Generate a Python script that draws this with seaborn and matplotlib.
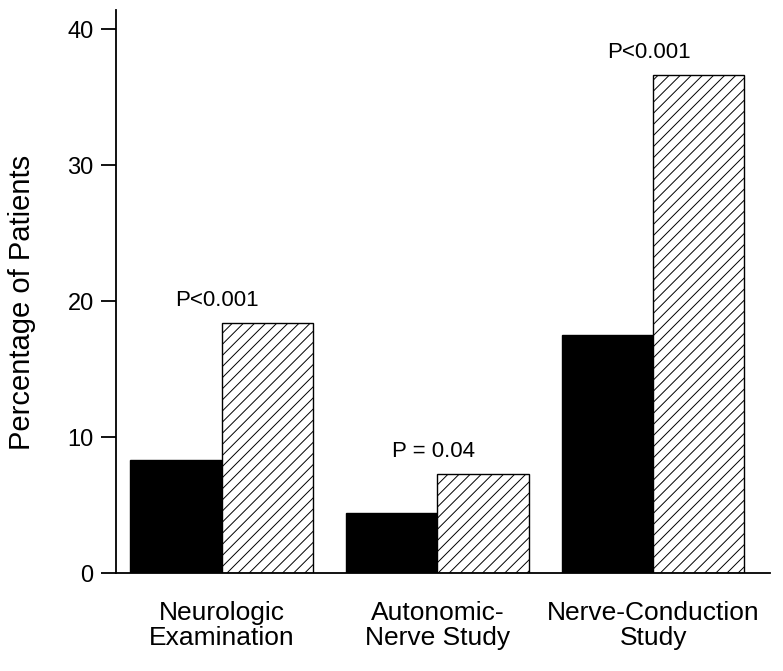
import pandas as pd
import seaborn as sns
import matplotlib.pyplot as plt

# values
categories = ["Neurologic\nExamination", "Autonomic-\nNerve Study", "Nerve-Conduction\nStudy"]
solid_vals = [8.3, 4.4, 17.5]      # black bars
hatched_vals = [18.4, 7.3, 36.6]   # hatched bars
p_labels = ["P<0.001", "P = 0.04", "P<0.001"]
y_ticks = [0, 10, 20, 30, 40]

df = pd.DataFrame({
    "category": categories * 2,
    "group": ["solid"] * 3 + ["hatched"] * 3,
    "pct": solid_vals + hatched_vals,
})

sns.set_style("ticks")
plt.rcParams['font.family'] = ['Liberation Sans', 'DejaVu Sans']
plt.rcParams['hatch.linewidth'] = 0.7
plt.rcParams['hatch.color'] = 'black'
# seaborn greys the text, the original is plain black
for k in ['text.color', 'axes.labelcolor', 'xtick.color', 'ytick.color']:
    plt.rcParams[k] = 'black'

fig = plt.figure(figsize=(7.83, 6.71), dpi=100)
ax = fig.add_axes([0.148, 0.146, 0.835, 0.839])

sns.barplot(data=df, x="category", y="pct", hue="group",
            palette=["black", "white"], saturation=1, width=0.845, gap=0,
            edgecolor="black", linewidth=1, legend=False, ax=ax)

# second series gets the diagonal hatching
for bar in ax.containers[1]:
    bar.set_hatch('///')

# p-values above the hatched bars
for i, (v, t) in enumerate(zip(hatched_vals, p_labels)):
    ax.text(i - 0.02, v + 0.9, t, ha='center', va='bottom', fontsize=16)

ax.set_xlim(-0.49, 2.54)
ax.set_ylim(0, 41.4)
ax.set_yticks(y_ticks)
ax.set_xlabel("")
ax.set_ylabel("Percentage of Patients", fontsize=21)
ax.yaxis.set_label_coords(-0.122, 0.48)

ax.tick_params(axis='y', length=11, width=1.3, labelsize=17, pad=5)
ax.tick_params(axis='x', length=0, labelsize=19, pad=20)
for lab in ax.get_xticklabels():
    lab.set_linespacing(1.05)

sns.despine(ax=ax)
for s in ["left", "bottom"]:
    ax.spines[s].set_linewidth(1.3)
    ax.spines[s].set_color("black")

fig.savefig("out.png", dpi=100)
